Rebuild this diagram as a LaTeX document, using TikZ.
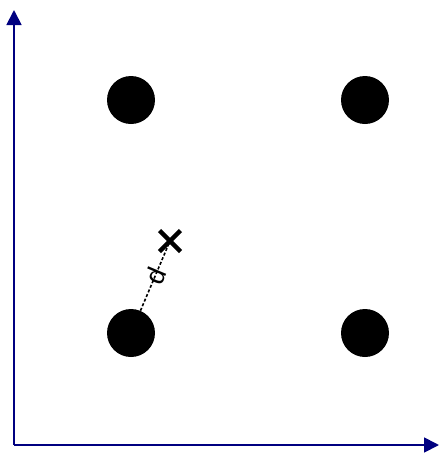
\documentclass[tikz,border=0pt]{standalone}
\usetikzlibrary{arrows.meta,calc}
\usepackage{fontspec}
\setmainfont{Liberation Sans}
\definecolor{axisblue}{RGB}{0,0,128}
\tikzset{
  axis/.style={draw=axisblue, line width=1.8pt, -{Triangle[length=15pt,width=15pt]}},
  dot/.style={circle, fill=black, minimum size=48pt, inner sep=0pt},
  crossmark/.style={draw=black, line width=4.5pt},
  dist/.style={draw=black, line width=1.6pt, dash pattern=on 3pt off 2pt},
}
\begin{document}
\begin{tikzpicture}[x=1pt,y=-1pt]
\useasboundingbox (0,0) rectangle (439,459);
\coordinate (O) at (14,445);
\coordinate (Ytop) at (14,10);
\coordinate (Xend) at (439,445);
\draw[axis] (O) -- (Ytop);
\draw[axis] (O) -- (Xend);
\node[dot] (p1) at (131,100) {};
\node[dot] (p2) at (365,100) {};
\node[dot] (p3) at (131,333) {};
\node[dot] (p4) at (365,333) {};
\coordinate (q) at (170,241);
\draw[crossmark] ($(q)+(-10.5,-10.5)$) -- ($(q)+(10.5,10.5)$);
\draw[crossmark] ($(q)+(-10.5,10.5)$) -- ($(q)+(10.5,-10.5)$);
\draw[dist] (p3) -- (q) node[midway, sloped, inner sep=0pt, font=\fontsize{27}{27}\selectfont] (dl) {d};
\end{tikzpicture}
\end{document}
